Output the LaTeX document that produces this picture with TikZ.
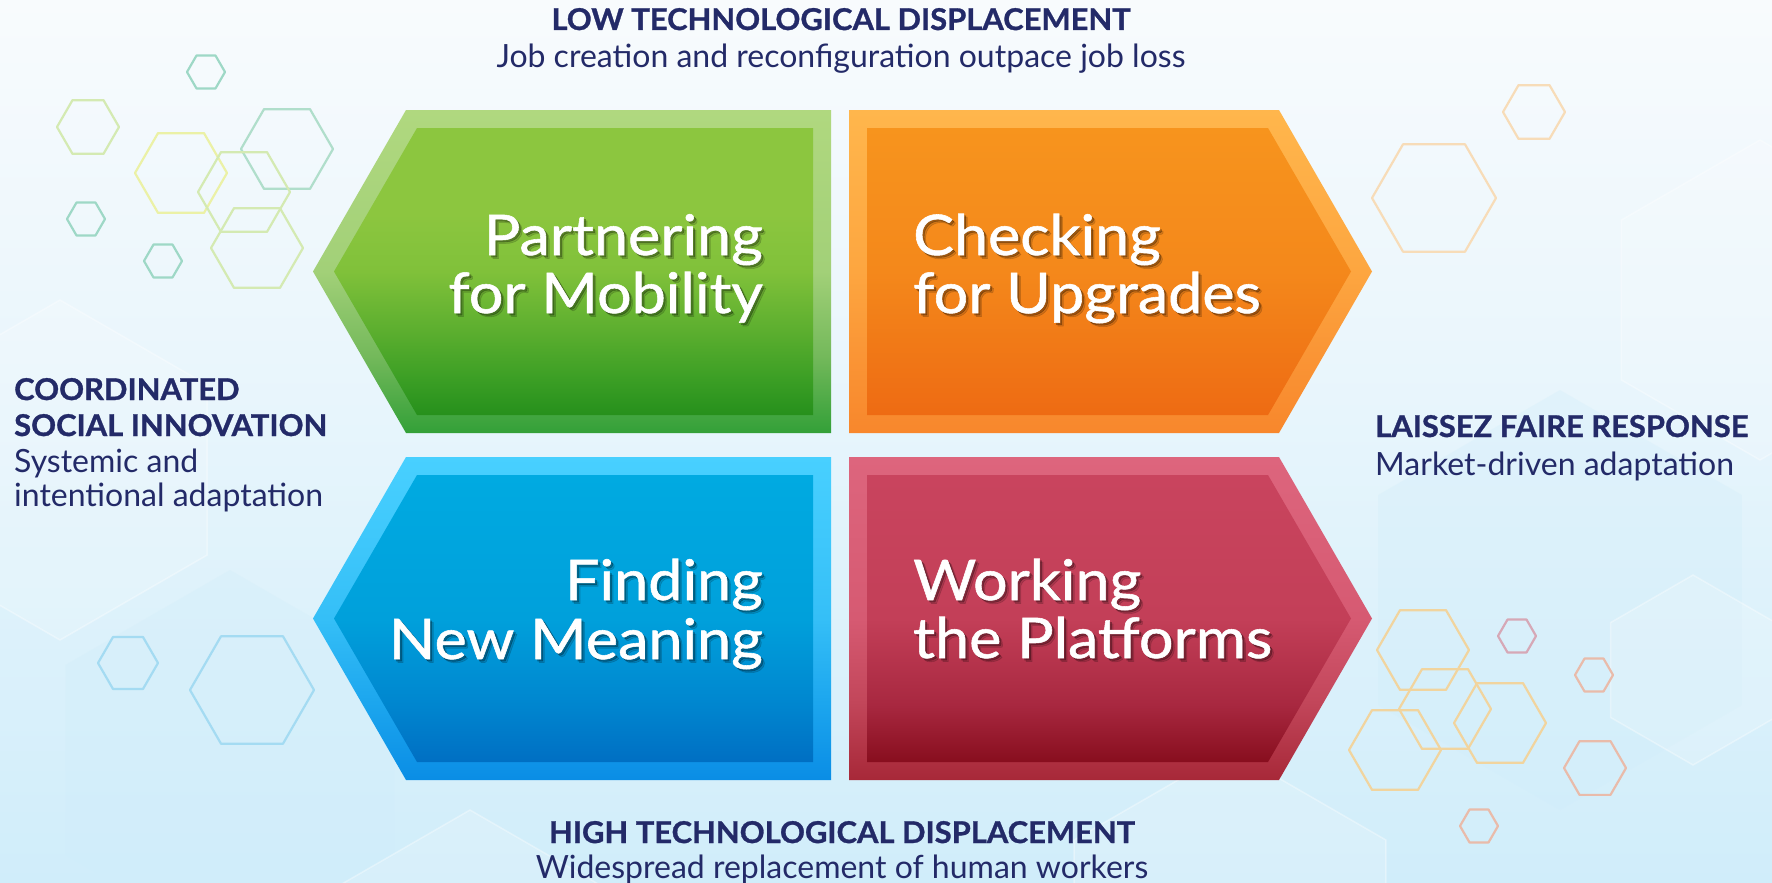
\documentclass[tikz,border=0pt]{standalone}
\usepackage{fontspec}
\setmainfont{Lato}
\newfontfamily\platefont[FakeStretch=1.09, FakeBold=1]{Lato}
\newfontfamily\headfont[FakeStretch=1.03, BoldFeatures={FakeBold=1}]{Lato}
\usetikzlibrary{calc}

% text and outline colours
\definecolor{navy}{HTML}{232A68}
\definecolor{bgA}{HTML}{F8FBFD}
\definecolor{bgB}{HTML}{EAF6FC}
\definecolor{bgC}{HTML}{D0EDFA}

% plate colours: inner body (top -> bottom) and rim (top -> bottom)
\definecolor{giA}{HTML}{8CC63F}\definecolor{giB}{HTML}{80C13A}\definecolor{giC}{HTML}{5DAF2F}\definecolor{giD}{HTML}{3C9F25}\definecolor{giE}{HTML}{26901C}
\definecolor{grA}{HTML}{B0D87F}\definecolor{grB}{HTML}{A2D078}\definecolor{grC}{HTML}{74B95B}\definecolor{grD}{HTML}{33A038}
\definecolor{oiA}{HTML}{F7941D}\definecolor{oiB}{HTML}{F4881B}\definecolor{oiC}{HTML}{F17A17}\definecolor{oiD}{HTML}{EE6B13}
\definecolor{orA}{HTML}{FFB64C}\definecolor{orB}{HTML}{FDA640}\definecolor{orC}{HTML}{FA9636}\definecolor{orD}{HTML}{F8872C}
\definecolor{biA}{HTML}{00AAE1}\definecolor{biB}{HTML}{00A0DB}\definecolor{biC}{HTML}{0086CF}\definecolor{biD}{HTML}{006FC3}
\definecolor{brA}{HTML}{48D0FF}\definecolor{brB}{HTML}{35BFF7}\definecolor{brC}{HTML}{1CA6EE}\definecolor{brD}{HTML}{0A8DE5}
\definecolor{riA}{HTML}{C9445E}\definecolor{riB}{HTML}{C33F58}\definecolor{riC}{HTML}{A82840}\definecolor{riD}{HTML}{880E1E}
\definecolor{rrA}{HTML}{DD657D}\definecolor{rrB}{HTML}{D65A72}\definecolor{rrC}{HTML}{C2465A}\definecolor{rrD}{HTML}{A72838}

% hexagon outline colours
\definecolor{hTeal}{HTML}{9ED8C6}
\definecolor{hLime}{HTML}{D4EAB2}
\definecolor{hYel}{HTML}{EBF1A6}
\definecolor{hMint}{HTML}{B0DECB}
\definecolor{hPeach}{HTML}{F7DCB8}
\definecolor{hSand}{HTML}{F1D49E}
\definecolor{hMauve}{HTML}{D6A8B6}
\definecolor{hSalm}{HTML}{E9BBAA}
\definecolor{hSky}{HTML}{A4DBF2}

% vertical shadings: 25bp = bottom of the path, 75bp = top
\pgfdeclareverticalshading{bgshade}{100bp}{color(0bp)=(bgC); color(25bp)=(bgC); color(55bp)=(bgB); color(75bp)=(bgA); color(100bp)=(bgA)}
\pgfdeclareverticalshading{greenbody}{100bp}{color(0bp)=(giE); color(25bp)=(giE); color(31.5bp)=(giD); color(40bp)=(giC); color(50bp)=(giB); color(60bp)=(giA); color(100bp)=(giA)}
\pgfdeclareverticalshading{greenrim}{100bp}{color(0bp)=(grD); color(25bp)=(grD); color(37bp)=(grC); color(50bp)=(grB); color(75bp)=(grA); color(100bp)=(grA)}
\pgfdeclareverticalshading{orangebody}{100bp}{color(0bp)=(oiD); color(25bp)=(oiD); color(38bp)=(oiC); color(50bp)=(oiB); color(75bp)=(oiA); color(100bp)=(oiA)}
\pgfdeclareverticalshading{orangerim}{100bp}{color(0bp)=(orD); color(25bp)=(orD); color(38bp)=(orC); color(50bp)=(orB); color(75bp)=(orA); color(100bp)=(orA)}
\pgfdeclareverticalshading{bluebody}{100bp}{color(0bp)=(biD); color(25bp)=(biD); color(35bp)=(biC); color(50bp)=(biB); color(75bp)=(biA); color(100bp)=(biA)}
\pgfdeclareverticalshading{bluerim}{100bp}{color(0bp)=(brD); color(25bp)=(brD); color(37bp)=(brC); color(50bp)=(brB); color(75bp)=(brA); color(100bp)=(brA)}
\pgfdeclareverticalshading{redbody}{100bp}{color(0bp)=(riD); color(25bp)=(riD); color(35bp)=(riC); color(50bp)=(riB); color(75bp)=(riA); color(100bp)=(riA)}
\pgfdeclareverticalshading{redrim}{100bp}{color(0bp)=(rrD); color(25bp)=(rrD); color(37bp)=(rrC); color(50bp)=(rrB); color(75bp)=(rrA); color(100bp)=(rrA)}

% flat-topped hexagon outline: style, centre x, centre y, radius
\newcommand\hexring[4]{\draw[ring,#1] (#2,#3) ++(0:#4) -- ++(120:#4) -- ++(180:#4) -- ++(240:#4) -- ++(300:#4) -- ++(0:#4) -- cycle;}
% pointy-topped faint facet in the backdrop
\newcommand\facet[4]{\path[#1] (#2,#3) ++(90:#4) -- ++(210:#4) -- ++(270:#4) -- ++(330:#4) -- ++(30:#4) -- ++(90:#4) -- cycle;}
% white headline line with a soft drop shadow: name, anchor, x, y, text
\newcommand\platetext[5]{%
  \foreach \d/\o in {2/0.25,3.5/0.14}{\node[bigtxt, text=black, opacity=\o, anchor=#2] at ([shift={(\d,\d)}]#3,#4) {#5};}
  \node[bigtxt, anchor=#2] (#1) at (#3,#4) {#5};}

\begin{document}
\begin{tikzpicture}[x=1pt,y=-1pt,
  navytxt/.style={inner sep=0pt, text=navy},
  headtxt/.style={navytxt, font=\fontsize{30}{32}\headfont\bfseries},
  subtxt/.style={navytxt, font=\fontsize{32}{34}\selectfont},
  bigtxt/.style={inner sep=0pt, text=white, font=\fontsize{56}{58}\platefont},
  ring/.style={line width=2.2pt, line join=round},
  glow/.style={fill=white, fill opacity=0.16, draw=white, draw opacity=0.35, line width=1.5pt},
  tint/.style={fill=bgC, fill opacity=0.3},
]
\useasboundingbox (0,0) rectangle (1772,883);

% backdrop
\shade[shading=bgshade] (0,0) rectangle (1772,883);
\facet{tint}{230}{760}{190}
\facet{tint}{1560}{600}{210}
\facet{glow}{60}{470}{170}
\facet{glow}{470}{1010}{200}
\facet{glow}{1230}{930}{180}
\facet{glow}{1760}{300}{160}
\facet{glow}{1693}{670}{95}

% hexagon clusters
\hexring{hTeal}{206}{72}{19}
\hexring{hLime}{88}{127}{31}
\hexring{hYel}{181}{173}{46}
\hexring{hMint}{287}{149}{46}
\hexring{hLime}{244}{192}{46}
\hexring{hLime}{257}{248}{46}
\hexring{hTeal}{86}{219}{19}
\hexring{hTeal}{163}{261}{19}

\hexring{hPeach}{1534}{112}{31}
\hexring{hPeach}{1434}{198}{62}

\hexring{hSand}{1423}{650}{46}
\hexring{hSand}{1445}{709}{46}
\hexring{hSand}{1395}{750}{46}
\hexring{hSand}{1500}{723}{46}
\hexring{hMauve}{1517}{636}{19}
\hexring{hSalm}{1594}{675}{19}
\hexring{hSalm}{1595}{768}{31}
\hexring{hSalm}{1479}{826}{19}

\hexring{hSky}{128}{663}{30}
\hexring{hSky}{252}{690}{62}

% four plates: rim, then body
\shade[shading=greenrim]  (831,110) -- (406,110) -- (313,271.5) -- (406,433) -- (831,433) -- cycle;
\shade[shading=greenbody] (813,128) -- (417,128) -- (334,271.5) -- (417,415) -- (813,415) -- cycle;
\shade[shading=orangerim]  (849,110) -- (1279,110) -- (1372,271.5) -- (1279,433) -- (849,433) -- cycle;
\shade[shading=orangebody] (867,128) -- (1268,128) -- (1351,271.5) -- (1268,415) -- (867,415) -- cycle;
\shade[shading=bluerim]  (831,457) -- (406,457) -- (313,618.5) -- (406,780) -- (831,780) -- cycle;
\shade[shading=bluebody] (813,475) -- (417,475) -- (334,618.5) -- (417,762) -- (813,762) -- cycle;
\shade[shading=redrim]  (849,457) -- (1279,457) -- (1372,618.5) -- (1279,780) -- (849,780) -- cycle;
\shade[shading=redbody] (867,475) -- (1268,475) -- (1351,618.5) -- (1268,762) -- (867,762) -- cycle;

% plate headlines
\platetext{pmA}{base east}{763}{255}{Partnering}
\platetext{pmB}{base east}{763}{313}{for Mobility}
\platetext{cuA}{base west}{913}{255}{Checking}
\platetext{cuB}{base west}{913}{313}{for Upgrades}
\platetext{fmA}{base east}{763}{600}{Finding}
\platetext{fmB}{base east}{763}{659}{New Meaning}
\platetext{wpA}{base west}{913}{600}{Working}
\platetext{wpB}{base west}{913}{658}{the Platforms}

% axis labels
\node[headtxt, anchor=base] (lowhead) at (841,30) {LOW TECHNOLOGICAL DISPLACEMENT};
\node[subtxt, anchor=base] (lowsub) at (841,67) {Job creation and reconfiguration outpace job loss};
\node[headtxt, anchor=base] (highhead) at (842,843) {HIGH TECHNOLOGICAL DISPLACEMENT};
\node[subtxt, anchor=base] (highsub) at (842,878) {Widespread replacement of human workers};
\node[headtxt, anchor=base west] (coordA) at (14,400) {COORDINATED};
\node[headtxt, anchor=base west] (coordB) at (14,436) {SOCIAL INNOVATION};
\node[subtxt, anchor=base west] (coordC) at (14,472) {Systemic and};
\node[subtxt, anchor=base west] (coordD) at (14,506) {intentional adaptation};
\node[headtxt, anchor=base west] (laisA) at (1375,437) {LAISSEZ FAIRE RESPONSE};
\node[subtxt, anchor=base west] (laisB) at (1375,475) {Market-driven adaptation};
\end{tikzpicture}
\end{document}
